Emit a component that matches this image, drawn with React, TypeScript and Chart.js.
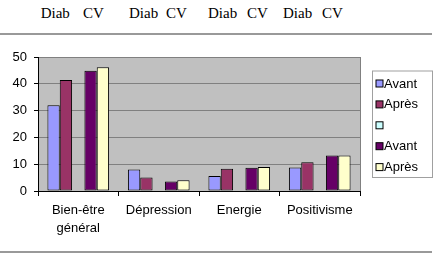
import React, { useEffect, useRef } from "react";
import { Chart, registerables } from "chart.js";

Chart.register(...registerables);

const categories: (string | string[])[] = [["Bien-être", "général"], "Dépression", "Energie", "Positivisme"];
const seriesLabels = ["Avant", "Après", "", "Avant", "Après"];
const diabAvant = [32, 8, 5.6, 8.8];
const diabApres = [41.4, 5, 8.3, 10.7];
const spacer = [null, null, null, null];
const cvAvant = [44.9, 3.5, 8.7, 13.2];
const cvApres = [46.2, 4, 9, 13.2];
const seriesColors = ["#9999FF", "#993366", "#CCFFFF", "#660066", "#FFFFCC"];
const headerWords = ["Diab", "CV", "Diab", "CV", "Diab", "CV", "Diab", "CV"];
const headerX = [40.7, 83, 129, 166, 208, 247, 283, 322];
const yTicksMax = 50;
const yStep = 10;

const plotDecor = {
  id: "plotDecor",
  beforeDraw(chart: any) {
    const { ctx, chartArea: a } = chart;
    ctx.save();
    ctx.fillStyle = "#C0C0C0";
    ctx.fillRect(a.left, a.top, a.right - a.left, a.bottom - a.top);
    ctx.strokeStyle = "#808080";
    ctx.lineWidth = 1;
    ctx.beginPath();
    ctx.moveTo(a.right + 0.5, a.top);
    ctx.lineTo(a.right + 0.5, a.bottom);
    ctx.stroke();
    ctx.restore();
  },
  afterDraw(chart: any) {
    const { ctx } = chart;
    const ds = chart.data.datasets;
    ctx.save();
    // legend frame
    ctx.strokeStyle = "#A0A0A0";
    ctx.lineWidth = 1;
    ctx.strokeRect(372.5, 71, 60, 106.5);
    ctx.font = "13px 'Liberation Sans', Arial, sans-serif";
    ctx.textBaseline = "middle";
    ctx.textAlign = "left";
    ds.forEach((d: any, i: number) => {
      const cy = 83.5 + i * 20.9;
      ctx.fillStyle = d.backgroundColor;
      ctx.fillRect(376, cy - 3.5, 7, 7);
      ctx.strokeStyle = "#000";
      ctx.strokeRect(376, cy - 3.5, 7, 7);
      ctx.fillStyle = "#000";
      ctx.fillText(d.label, 384, cy + 0.5);
    });
    ctx.restore();
  },
};

export default function App() {
  const ref = useRef<HTMLCanvasElement>(null);
  useEffect(() => {
    if (!ref.current) return;
    Chart.defaults.font.family = "'Liberation Sans', Arial, sans-serif";
    Chart.defaults.font.size = 13;
    Chart.defaults.color = "#000";
    const data = [diabAvant, diabApres, spacer, cvAvant, cvApres];
    const chart = new Chart(ref.current, {
      type: "bar",
      data: {
        labels: categories,
        datasets: data.map((vals, i) => ({
          label: seriesLabels[i],
          data: vals as any,
          backgroundColor: seriesColors[i],
          borderColor: "#000",
          borderWidth: 1,
          borderSkipped: false,
          categoryPercentage: 0.766,
          barPercentage: 1,
        })),
      },
      options: {
        animation: false,
        responsive: false,
        maintainAspectRatio: false,
        layout: { padding: { top: 57, right: 76, bottom: 0, left: 0 } },
        plugins: { legend: { display: false }, tooltip: { enabled: false } },
        scales: {
          x: {
            afterFit(scale: any) {
              scale.height = 63;
            },
            grid: {
              display: true,
              drawOnChartArea: false,
              drawTicks: true,
              offset: true,
              tickLength: 5,
              tickColor: "#000",
            },
            border: { color: "#000", width: 1 },
            ticks: { padding: 6, maxRotation: 0, autoSkip: false, font: { size: 13, lineHeight: 1.35 } },
          },
          y: {
            min: 0,
            max: yTicksMax,
            afterFit(scale: any) {
              scale.width = 38;
            },
            grid: { color: "#808080", tickColor: "#000", tickLength: 4, lineWidth: 1 },
            border: { color: "#000", width: 1 },
            ticks: { stepSize: yStep, padding: 7, font: { size: 13 } },
          },
        },
      },
      plugins: [plotDecor],
    });
    return () => chart.destroy();
  }, []);

  return (
    <div style={{ position: "fixed", left: 0, top: 0, width: 436, height: 254, background: "#fff" }}>
      {headerWords.map((w, i) => (
        <span
          key={i}
          style={{
            position: "absolute",
            left: headerX[i],
            top: 5.7,
            fontFamily: "'Liberation Serif', 'Times New Roman', serif",
            fontSize: 15,
            lineHeight: "15px",
            color: "#000",
            whiteSpace: "nowrap",
          }}
        >
          {w}
        </span>
      ))}
      <div style={{ position: "absolute", left: 0, top: 33, width: 432, height: 2, background: "#999" }} />
      <canvas ref={ref} width={436} height={254} style={{ position: "absolute", left: 0, top: 0 }} />
      <div style={{ position: "absolute", left: 0, top: 251, width: 432, height: 2, background: "#999" }} />
    </div>
  );
}
